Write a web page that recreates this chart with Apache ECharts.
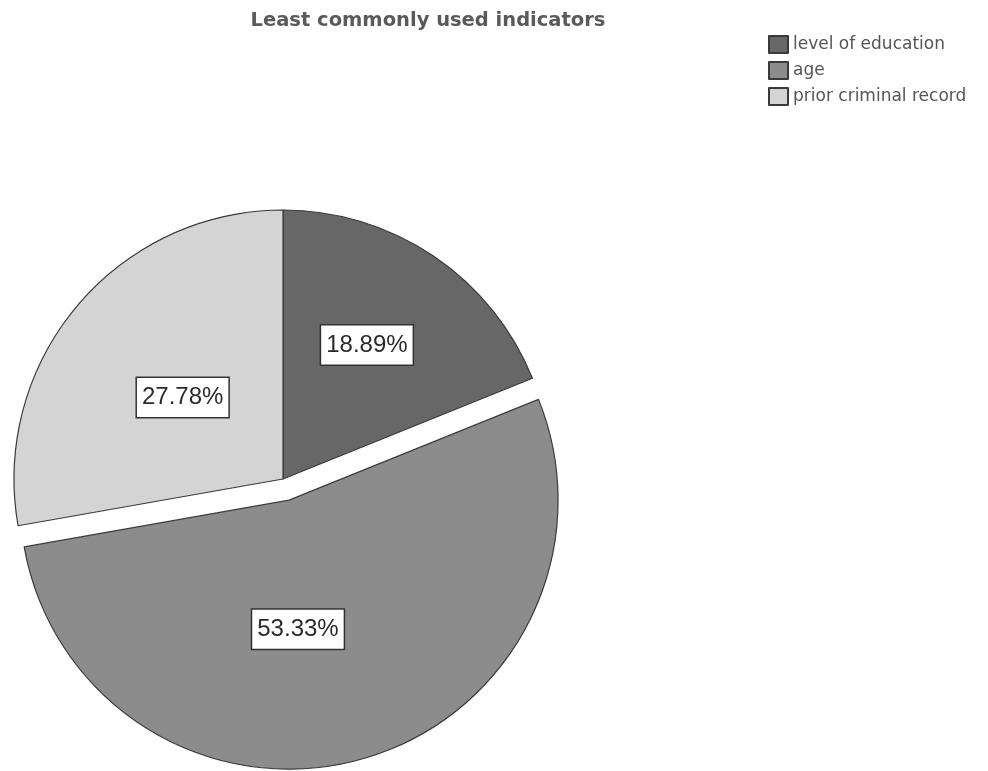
<!DOCTYPE html>
<html><head><meta charset="utf-8">
<script src="https://cdn.jsdelivr.net/npm/echarts@6/dist/echarts.min.js"></script>
<style>html,body{margin:0;padding:0;background:#fff}#c{width:988px;height:771px}</style>
</head><body><div id="c"></div>
<script>
var titleText = "Least commonly used indicators";
var categories = ["level of education", "age", "prior criminal record"];
var values = [18.89, 53.33, 27.78];
var colors = ["#676767", "#8c8c8c", "#d4d4d4"];
var explodedIndex = 1;
var labelShift = [[7, -20], [-29, -3], [5, 7]];

var chart = echarts.init(document.getElementById('c'));
chart.setOption({
  animation: false,
  backgroundColor: '#ffffff',
  title: {
    text: titleText, left: 423, top: 6, textAlign: 'center',
    textStyle: { fontFamily: 'DejaVu Sans', fontSize: 19.5, fontWeight: 'bold', color: '#5a5a5a' }
  },
  legend: {
    orient: 'vertical', left: 768, top: 35, padding: 0, itemWidth: 19, itemHeight: 17, itemGap: 7,
    icon: 'rect', selectedMode: false,
    textStyle: { fontFamily: 'DejaVu Sans', fontSize: 17, color: '#555' },
    data: categories
  },
  series: [{
    type: 'pie',
    center: [283, 479],
    radius: 269,
    startAngle: 90,
    clockwise: true,
    selectedMode: 'single',
    selectedOffset: 22,
    label: {
      show: true, position: 'inside',
      formatter: function (p) { return p.value.toFixed(2) + '%'; },
      fontFamily: 'Liberation Sans', fontSize: 24, lineHeight: 28, color: '#2a2a2a',
      backgroundColor: '#fff', borderColor: '#333', borderWidth: 1.5, padding: [6, 5, 5, 5]
    },
    labelLayout: function (p) {
      var s = labelShift[p.dataIndex];
      return { dx: s[0], dy: s[1] };
    },
    labelLine: { show: false },
    itemStyle: { borderColor: '#3a3a3a', borderWidth: 1.2 },
    emphasis: { disabled: true },
    data: categories.map(function (c, i) {
      return { name: c, value: values[i], selected: i === explodedIndex, itemStyle: { color: colors[i] } };
    })
  }]
});
</script></body></html>
